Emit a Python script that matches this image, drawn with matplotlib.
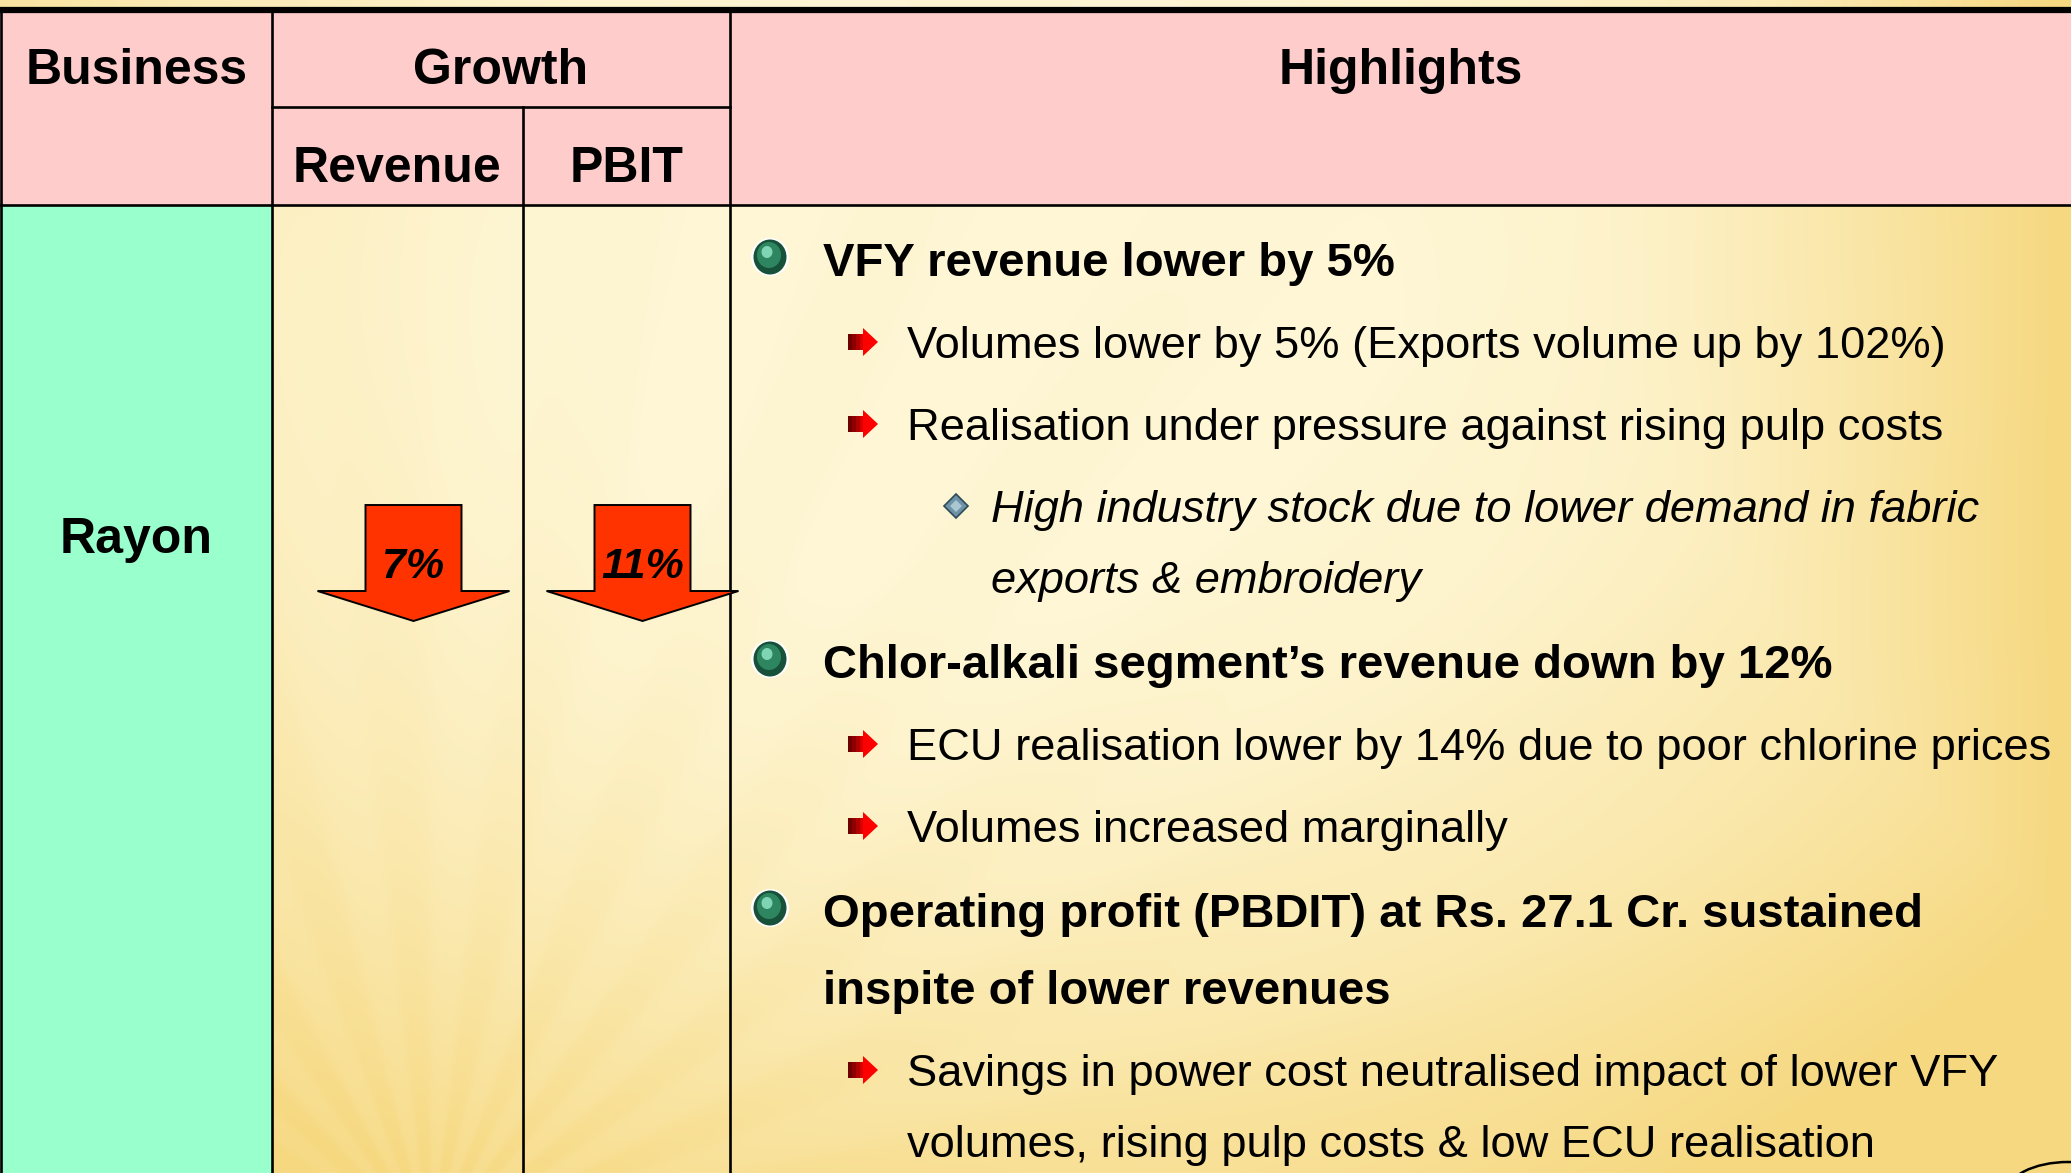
import numpy as np
import matplotlib
matplotlib.use("Agg")
import matplotlib.pyplot as plt
from matplotlib.patches import Polygon, Rectangle, Circle, Ellipse

W, H = 2071, 1173

# ---- table content ----
headers = ["Business", "Growth", "Highlights"]
business = "Rayon"
growth_labels = ["Revenue", "PBIT"]
growth_values = [7, 11]          # % decline (down arrows)

hl_level = [0, 1, 1, 2, 0, 1, 1, 0, 1]
hl_text = [
    ["VFY revenue lower by 5%"],
    ["Volumes lower by 5% (Exports volume up by 102%)"],
    ["Realisation under pressure against rising pulp costs"],
    ["High industry stock due to lower demand in fabric", "exports & embroidery"],
    ["Chlor-alkali segment\u2019s revenue down by 12%"],
    ["ECU realisation lower by 14% due to poor chlorine prices"],
    ["Volumes increased marginally"],
    ["Operating profit (PBDIT) at Rs. 27.1 Cr. sustained", "inspite of lower revenues"],
    ["Savings in power cost neutralised impact of lower VFY",
     "volumes, rising pulp costs & low ECU realisation"],
]

FONT = "Liberation Sans"
PINK = "#FFCCCC"
MINT = "#99FFCC"
ARROW_RED = "#FF3300"

# column / row edges in pixels
x_cols = [1, 272, 523, 730]
y_top, y_sub, y_head = 12, 107, 205


def background():
    yy, xx = np.mgrid[0:H, 0:W].astype(float)
    pale = np.array([254, 246, 212]) / 255
    yellow = np.array([246, 216, 128]) / 255
    d = np.sqrt((xx - 1000) ** 2 + ((yy - 300) / 0.75) ** 2)
    t2 = np.clip((d - 350) / 1000, 0, 1) ** 1.6
    t1 = np.clip((xx - 1500) / 560, 0, 1) ** 1.4
    t = np.maximum(t1, t2)
    # soft sunburst rays from below the growth columns
    r = np.hypot(xx - 430, yy - 1250)
    theta = np.arctan2(xx - 430, 1250 - yy)
    rays = np.tanh(2 * np.sin(26 * theta)) * np.exp(-r / 700)
    t = np.clip(t - 0.07 * rays, 0, 1)
    return pale * (1 - t[..., None]) + yellow * t[..., None]


def green_bullet(ax, x, y):
    ax.add_patch(Circle((x, y), 19, fc="white", ec="none", zorder=4))
    ax.add_patch(Ellipse((x, y), 33, 35, fc="#17513A", ec="none", zorder=5))
    ax.add_patch(Ellipse((x - 1, y - 2), 24, 26, fc="#2E8660", ec="none", zorder=5))
    ax.add_patch(Ellipse((x - 3, y - 5), 11, 12, fc="#7FD4B4", ec="none", zorder=5))


def red_bullet(ax, x, y):
    shades = ["#6E0000", "#8E0000", "#B00000", "#D80000"]
    for k, c in enumerate(shades):
        ax.add_patch(Rectangle((x - 14 + k * 4, y - 8), 4.2, 16, fc=c, ec="none", zorder=5))
    ax.add_patch(Polygon([(x + 1, y - 14), (x + 16, y), (x + 1, y + 14)],
                         closed=True, fc="#FF0000", ec="none", zorder=5))


def diamond_bullet(ax, x, y):
    ax.add_patch(Polygon([(x, y - 12), (x + 12, y), (x, y + 12), (x - 12, y)],
                         closed=True, fc="#6F93A6", ec="#2E4A5A", lw=1.2, zorder=5))
    ax.add_patch(Polygon([(x, y - 6), (x + 6, y), (x, y + 6), (x - 6, y)],
                         closed=True, fc="#A9C6D2", ec="none", zorder=5))


fig = plt.figure(figsize=(W / 100, H / 100), dpi=100)
ax = fig.add_axes([0, 0, 1, 1])
ax.set_xlim(0, W)
ax.set_ylim(H, 0)
ax.axis("off")

ax.imshow(background(), extent=(0, W, H, 0), aspect="auto", zorder=0,
          interpolation="bilinear")

# cell fills
ax.add_patch(Rectangle((0, y_top), W, y_head - y_top, fc=PINK, ec="none", zorder=1))
ax.add_patch(Rectangle((0, y_head), x_cols[1], H - y_head, fc=MINT, ec="none", zorder=1))

# grid lines
lw = 1.9
ax.plot([0, W], [9.5, 9.5], color="black", lw=4.5, zorder=3, solid_capstyle="butt")
for x in [x_cols[0], x_cols[1], x_cols[3]]:
    ax.plot([x, x], [9, H], color="black", lw=lw, zorder=3)
ax.plot([x_cols[2], x_cols[2]], [y_sub, H], color="black", lw=lw, zorder=3)
ax.plot([x_cols[1], x_cols[3]], [y_sub, y_sub], color="black", lw=lw, zorder=3)
ax.plot([0, W], [y_head, y_head], color="black", lw=lw, zorder=3)

# header text
hdr = dict(fontsize=36, fontweight="bold", family=FONT, ha="center", va="baseline", zorder=6)
ax.text((x_cols[0] + x_cols[1]) / 2, 84, headers[0], **hdr)
ax.text((x_cols[1] + x_cols[3]) / 2, 84, headers[1], **hdr)
ax.text((x_cols[3] + W) / 2, 84, headers[2], **hdr)
for i, lab in enumerate(growth_labels):
    ax.text((x_cols[1 + i] + x_cols[2 + i]) / 2, 182, lab, **hdr)
ax.text((x_cols[0] + x_cols[1]) / 2, 553, business, **hdr)

# growth arrows
for i, v in enumerate(growth_values):
    cx = (x_cols[1 + i] + x_cols[2 + i]) / 2 + 16
    pts = [(cx - 48, 505), (cx + 48, 505), (cx + 48, 591), (cx + 96, 591),
           (cx, 621), (cx - 96, 591), (cx - 48, 591)]
    ax.add_patch(Polygon(pts, closed=True, fc=ARROW_RED, ec="black", lw=1.4, zorder=5))
    ax.text(cx, 578, f"{v}%", fontsize=31, fontweight="bold", style="italic",
            family=FONT, ha="center", va="baseline", zorder=6)

# highlights
styles = {
    0: dict(x=823, bx=770, fs=34, weight="bold", style="normal", off=19),
    1: dict(x=907, bx=862, fs=32.6, weight="normal", style="normal", off=16),
    2: dict(x=991, bx=956, fs=32.6, weight="normal", style="italic", off=16),
}
y = 276
prev = None
for lvl, lines in zip(hl_level, hl_text):
    if prev is not None:
        y += 85 if lvl == 0 else 82
    s = styles[lvl]
    if lvl == 0:
        green_bullet(ax, s["bx"], y - s["off"])
    elif lvl == 1:
        red_bullet(ax, s["bx"], y - s["off"])
    else:
        diamond_bullet(ax, s["bx"], y - s["off"])
    for j, line in enumerate(lines):
        if j > 0:
            y += 77 if lvl == 0 else 71
        ax.text(s["x"], y, line, fontsize=s["fs"], fontweight=s["weight"],
                style=s["style"], family=FONT, ha="left", va="baseline", zorder=6)
    prev = lvl

# corner logo (cropped)
ax.add_patch(Ellipse((2068, 1194), 124, 64, fill=False, ec="black", lw=1.8, zorder=6))

fig.savefig("out.png", dpi=100)
